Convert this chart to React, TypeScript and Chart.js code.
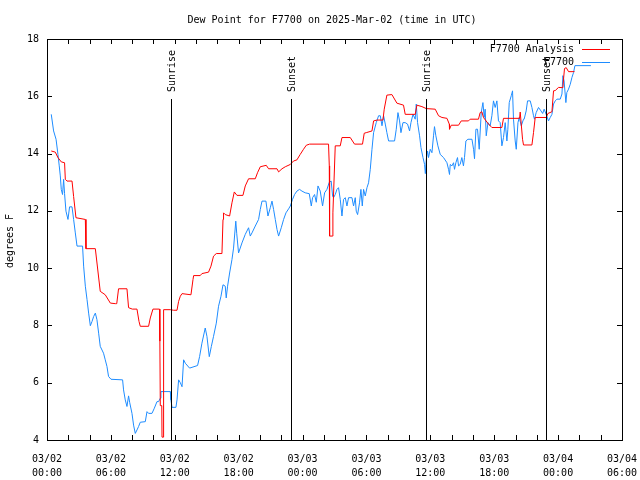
import React, { useEffect, useRef } from "react";
import { Chart, registerables } from "chart.js";

Chart.register(...registerables);

// Hours since 03/02 00:00 UTC
const analysisHours = [0.40, 0.78, 1.03, 1.34, 1.65, 1.72, 1.88, 2.35, 2.50, 2.72, 3.60, 3.66, 4.54, 5.00, 5.47, 5.95, 6.42, 6.55, 6.72, 7.51, 7.66, 8.01, 8.45, 8.64, 8.76, 9.54, 9.70, 9.95, 10.57, 10.60, 10.64, 10.78, 10.80, 10.90, 10.95, 11.58, 11.89, 12.21, 12.36, 12.52, 12.68, 13.52, 13.71, 13.77, 14.39, 14.55, 15.17, 15.40, 15.64, 15.90, 16.43, 16.53, 16.58, 16.74, 17.15, 17.37, 17.59, 17.84, 18.40, 18.62, 18.93, 19.56, 19.77, 20.03, 20.59, 20.81, 21.60, 21.75, 22.07, 22.38, 22.85, 23.15, 23.47, 23.78, 24.09, 24.35, 24.66, 26.44, 26.51, 26.54, 26.82, 26.85, 27.07, 27.54, 27.70, 28.48, 28.88, 29.63, 29.79, 29.98, 30.52, 30.67, 30.99, 31.55, 31.67, 31.92, 32.39, 32.86, 33.48, 33.64, 34.58, 34.74, 35.21, 35.62, 36.46, 36.77, 37.09, 37.56, 37.78, 37.80, 37.96, 38.65, 38.90, 39.58, 39.74, 40.52, 40.68, 40.84, 40.99, 41.46, 41.78, 42.72, 42.87, 44.38, 44.44, 44.66, 44.75, 45.54, 45.69, 45.85, 46.88, 47.04, 47.42, 47.57, 47.73, 48.04, 48.45, 48.51, 48.60, 48.76, 48.98, 49.54];
const analysisDew = [14.09, 14.05, 13.86, 13.71, 13.68, 13.10, 13.04, 13.04, 12.50, 11.76, 11.70, 10.68, 10.68, 9.19, 9.07, 8.78, 8.76, 8.76, 9.28, 9.28, 8.62, 8.57, 8.57, 8.14, 7.97, 7.97, 8.26, 8.57, 8.57, 7.45, 5.20, 5.20, 4.10, 4.10, 8.55, 8.55, 8.53, 8.53, 8.84, 9.02, 9.11, 9.07, 9.60, 9.74, 9.74, 9.81, 9.86, 10.07, 10.42, 10.51, 10.51, 11.70, 11.93, 11.87, 11.82, 12.28, 12.66, 12.54, 12.54, 12.87, 13.12, 13.12, 13.33, 13.54, 13.59, 13.47, 13.47, 13.36, 13.47, 13.54, 13.62, 13.74, 13.78, 13.97, 14.15, 14.29, 14.33, 14.33, 13.57, 11.12, 11.12, 11.93, 14.27, 14.27, 14.56, 14.56, 14.33, 14.33, 14.71, 14.73, 14.79, 15.14, 15.17, 15.17, 15.55, 16.04, 16.06, 15.76, 15.69, 15.37, 15.37, 15.69, 15.64, 15.57, 15.55, 15.32, 15.26, 15.23, 15.03, 14.85, 14.99, 14.99, 15.14, 15.14, 15.20, 15.20, 15.43, 15.46, 15.26, 15.03, 14.91, 14.91, 15.23, 15.23, 15.45, 14.50, 14.30, 14.30, 14.73, 15.26, 15.26, 15.40, 15.46, 16.19, 16.20, 16.31, 16.30, 16.60, 16.97, 17.00, 16.86, 16.86];

const obsHours = [0.40, 0.62, 0.85, 1.03, 1.15, 1.25, 1.34, 1.46, 1.56, 1.65, 1.78, 1.97, 2.12, 2.35, 2.50, 2.66, 2.82, 3.34, 3.44, 3.60, 3.76, 3.91, 4.07, 4.23, 4.38, 4.54, 4.69, 4.85, 5.00, 5.31, 5.47, 5.63, 5.78, 6.01, 7.10, 7.19, 7.35, 7.51, 7.66, 7.77, 7.98, 8.13, 8.29, 8.45, 8.60, 8.76, 9.23, 9.39, 9.54, 9.86, 10.08, 10.33, 10.48, 10.64, 10.70, 11.58, 11.64, 11.74, 12.11, 12.21, 12.36, 12.52, 12.68, 12.83, 12.99, 13.39, 14.14, 14.33, 14.55, 14.86, 15.02, 15.24, 15.43, 15.64, 15.90, 16.11, 16.34, 16.53, 16.74, 16.83, 16.96, 17.15, 17.37, 17.52, 17.73, 17.82, 17.99, 18.31, 18.62, 18.93, 19.09, 19.25, 19.56, 19.87, 20.03, 20.19, 20.56, 20.75, 20.97, 21.13, 21.28, 21.44, 21.60, 21.75, 22.00, 22.22, 22.44, 22.69, 22.85, 23.06, 23.25, 23.47, 23.72, 23.94, 24.25, 24.63, 24.82, 24.94, 25.13, 25.29, 25.45, 25.66, 25.88, 26.07, 26.29, 26.51, 26.69, 26.82, 26.91, 27.07, 27.23, 27.38, 27.54, 27.70, 27.85, 28.01, 28.17, 28.32, 28.64, 28.79, 28.95, 29.04, 29.17, 29.35, 29.48, 29.61, 29.73, 29.89, 30.05, 30.20, 30.36, 30.52, 30.67, 30.92, 31.14, 31.30, 31.46, 31.61, 31.77, 31.92, 32.08, 32.64, 32.80, 32.96, 33.11, 33.24, 33.43, 33.64, 33.86, 34.05, 34.18, 34.37, 34.58, 34.68, 34.80, 34.99, 35.12, 35.31, 35.46, 35.53, 35.62, 35.74, 35.83, 35.99, 36.15, 36.30, 36.39, 36.52, 36.71, 36.93, 37.24, 37.56, 37.71, 37.80, 37.87, 38.03, 38.18, 38.27, 38.40, 38.55, 38.65, 38.80, 38.96, 39.11, 39.21, 39.34, 39.53, 39.91, 40.06, 40.15, 40.28, 40.43, 40.59, 40.78, 40.94, 41.06, 41.15, 41.25, 41.41, 41.62, 41.78, 41.93, 42.09, 42.25, 42.40, 42.56, 42.72, 42.87, 43.03, 43.19, 43.28, 43.41, 43.60, 43.72, 43.81, 43.97, 44.07, 44.23, 44.35, 44.54, 44.75, 44.81, 45.00, 45.13, 45.38, 45.54, 45.69, 45.78, 45.94, 46.16, 46.39, 46.55, 46.69, 46.88, 47.10, 47.26, 47.42, 47.57, 47.73, 47.89, 48.20, 48.36, 48.45, 48.56, 48.73, 48.82, 48.98, 49.14, 49.30, 49.45, 49.58, 51.08];
const obsDew = [15.37, 14.79, 14.50, 13.97, 13.57, 13.22, 12.75, 12.57, 13.10, 12.60, 11.99, 11.70, 12.14, 12.14, 11.70, 11.23, 10.77, 10.77, 10.07, 9.37, 8.90, 8.43, 7.99, 8.14, 8.31, 8.43, 8.20, 7.73, 7.27, 7.03, 6.80, 6.57, 6.22, 6.12, 6.10, 5.75, 5.40, 5.17, 5.54, 5.30, 4.93, 4.52, 4.23, 4.35, 4.47, 4.62, 4.64, 4.99, 4.93, 4.93, 5.11, 5.34, 5.34, 5.46, 5.69, 5.69, 5.40, 5.14, 5.14, 5.40, 6.10, 6.00, 5.86, 6.80, 6.68, 6.51, 6.60, 6.91, 7.38, 7.91, 7.62, 6.91, 7.26, 7.62, 8.08, 8.67, 9.02, 9.42, 9.37, 8.96, 9.37, 9.83, 10.30, 10.70, 11.64, 11.20, 10.53, 10.88, 11.18, 11.41, 11.12, 11.23, 11.47, 11.70, 12.05, 12.34, 12.34, 11.82, 12.11, 12.34, 12.05, 11.70, 11.35, 11.12, 11.41, 11.70, 11.93, 12.07, 12.17, 12.40, 12.57, 12.69, 12.75, 12.69, 12.63, 12.60, 12.17, 12.46, 12.57, 12.30, 12.87, 12.69, 12.17, 12.63, 12.75, 13.00, 13.04, 12.52, 12.46, 12.57, 12.75, 12.81, 12.40, 11.82, 12.40, 12.46, 12.17, 12.46, 12.46, 12.17, 12.46, 11.99, 11.87, 12.28, 12.75, 12.17, 12.75, 12.52, 12.81, 12.98, 13.45, 14.15, 14.73, 15.08, 15.32, 15.32, 14.97, 15.32, 15.03, 14.73, 14.44, 14.44, 14.85, 15.43, 15.14, 14.73, 15.08, 15.08, 15.03, 14.79, 15.08, 15.37, 15.20, 15.73, 15.08, 14.62, 14.21, 13.86, 13.62, 13.30, 13.80, 14.09, 13.86, 14.15, 14.03, 14.62, 14.94, 14.62, 14.27, 13.97, 13.86, 13.68, 13.45, 13.27, 13.62, 13.57, 13.68, 13.45, 13.68, 13.86, 13.57, 13.62, 13.86, 13.57, 13.86, 14.44, 14.50, 14.50, 14.15, 13.82, 14.85, 14.85, 14.15, 15.43, 15.78, 15.26, 15.55, 14.62, 15.08, 14.97, 15.32, 15.84, 15.61, 15.84, 15.14, 15.08, 14.27, 14.56, 15.08, 14.44, 14.85, 15.78, 16.02, 16.19, 15.20, 14.44, 14.15, 15.08, 15.26, 14.97, 15.20, 15.20, 15.49, 15.84, 15.84, 15.61, 15.32, 15.20, 15.43, 15.61, 15.49, 15.40, 15.55, 15.37, 15.14, 15.26, 15.37, 15.73, 15.84, 15.90, 15.90, 16.08, 16.72, 16.54, 15.78, 16.13, 16.25, 16.42, 16.66, 16.83, 17.07, 17.07];

const sunHours = [11.63, 22.88, 35.60, 46.90];
const sunLabels = ["Sunrise", "Sunset", "Sunrise", "Sunset"];

const tickDates = ["03/02", "03/02", "03/02", "03/02", "03/03", "03/03", "03/03", "03/03", "03/04", "03/04"];
const tickTimes = ["00:00", "06:00", "12:00", "18:00", "00:00", "06:00", "12:00", "18:00", "00:00", "06:00"];

const seriesNames = ["F7700 Analysis", "F7700"];
const seriesColors = ["#ff0000", "#1e8cff"];
const titleText = "Dew Point for F7700 on 2025-Mar-02 (time in UTC)";
const yTitle = "degrees F";

const FONT = "10px 'DejaVu Sans Mono', monospace";

const decorPlugin = {
  id: "gnuplotDecor",
  afterDatasetsDraw(chart: any) {
    const ctx = chart.ctx;
    const { left, right, top, bottom } = chart.chartArea;
    const xs = chart.scales.x;
    const ys = chart.scales.y;
    ctx.save();
    ctx.strokeStyle = "#000";
    ctx.lineWidth = 1;
    ctx.font = FONT;
    ctx.fillStyle = "#000";
    sunHours.forEach((h, i) => {
      const px = Math.round(xs.getPixelForValue(h)) + 0.5;
      ctx.beginPath();
      ctx.moveTo(px, 99);
      ctx.lineTo(px, bottom);
      ctx.stroke();
      ctx.save();
      ctx.translate(px + 1, 92);
      ctx.rotate(-Math.PI / 2);
      ctx.textAlign = "left";
      ctx.textBaseline = "middle";
      ctx.fillText(sunLabels[i], 0, 0);
      ctx.restore();
    });
    ctx.strokeRect(Math.round(left) + 0.5, Math.round(top) + 0.5, Math.round(right - left), Math.round(bottom - top));
    const tl = 5;
    for (let v = 0; v <= 54; v += 2) {
      const px = Math.round(xs.getPixelForValue(v)) + 0.5;
      ctx.beginPath();
      ctx.moveTo(px, bottom);
      ctx.lineTo(px, bottom - tl);
      ctx.moveTo(px, top);
      ctx.lineTo(px, top + tl);
      ctx.stroke();
    }
    for (let v = 4; v <= 18; v += 2) {
      const py = Math.round(ys.getPixelForValue(v)) + 0.5;
      ctx.beginPath();
      ctx.moveTo(left, py);
      ctx.lineTo(left + tl, py);
      ctx.moveTo(right, py);
      ctx.lineTo(right - tl, py);
      ctx.stroke();
    }
    ctx.textAlign = "right";
    ctx.textBaseline = "middle";
    const ly = [49.5, 62.5];
    seriesNames.forEach((n, i) => {
      ctx.fillStyle = "#000";
      ctx.fillText(n, 574, ly[i]);
      ctx.strokeStyle = seriesColors[i];
      ctx.beginPath();
      ctx.moveTo(582, ly[i]);
      ctx.lineTo(610, ly[i]);
      ctx.stroke();
    });
    ctx.fillStyle = "#000";
    ctx.textAlign = "center";
    ctx.fillText(titleText, 332, 20);
    ctx.save();
    ctx.translate(10, 241);
    ctx.rotate(-Math.PI / 2);
    ctx.textAlign = "center";
    ctx.fillText(yTitle, 0, 0);
    ctx.restore();
    ctx.restore();
  },
};

export default function App() {
  const ref = useRef<HTMLCanvasElement | null>(null);
  useEffect(() => {
    if (!ref.current) return;
    const chart = new Chart(ref.current, {
      type: "line",
      data: {
        datasets: [
          {
            label: seriesNames[0],
            data: analysisHours.map((h, i) => ({ x: h, y: analysisDew[i] })),
            borderColor: seriesColors[0],
            borderWidth: 1,
            pointRadius: 0,
            tension: 0,
          },
          {
            label: seriesNames[1],
            data: obsHours.map((h, i) => ({ x: h, y: obsDew[i] })),
            borderColor: seriesColors[1],
            borderWidth: 1,
            pointRadius: 0,
            tension: 0,
          },
        ],
      },
      options: {
        animation: false,
        responsive: false,
        devicePixelRatio: 1,
        layout: { padding: { left: 0, top: 39, right: 18, bottom: 0 } },
        plugins: { legend: { display: false }, title: { display: false }, tooltip: { enabled: false } },
        scales: {
          x: {
            type: "linear",
            min: 0,
            max: 54,
            grid: { display: false, drawTicks: false },
            border: { display: false },
            afterFit: (s: any) => {
              s.height = 40;
              s.paddingLeft = 0;
              s.paddingRight = 0;
            },
            ticks: {
              stepSize: 2,
              autoSkip: false,
              maxRotation: 0,
              minRotation: 0,
              padding: 12,
              color: "#000",
              font: { family: "'DejaVu Sans Mono', monospace", size: 10, lineHeight: 1.45 },
              callback: (value: any) => {
                const v = Number(value);
                if (v % 6 !== 0) return "";
                const i = v / 6;
                return [tickDates[i], tickTimes[i]];
              },
            },
          },
          y: {
            min: 4,
            max: 18,
            grid: { display: false, drawTicks: false },
            border: { display: false },
            afterFit: (s: any) => {
              s.width = 47;
            },
            ticks: {
              stepSize: 2,
              padding: 8,
              color: "#000",
              font: { family: "'DejaVu Sans Mono', monospace", size: 10 },
            },
          },
        },
      },
      plugins: [decorPlugin],
    });
    return () => chart.destroy();
  }, []);
  return (
    <div style={{ position: "absolute", left: 0, top: 0, width: 640, height: 480, background: "#fff" }}>
      <canvas ref={ref} width={640} height={480} />
    </div>
  );
}
